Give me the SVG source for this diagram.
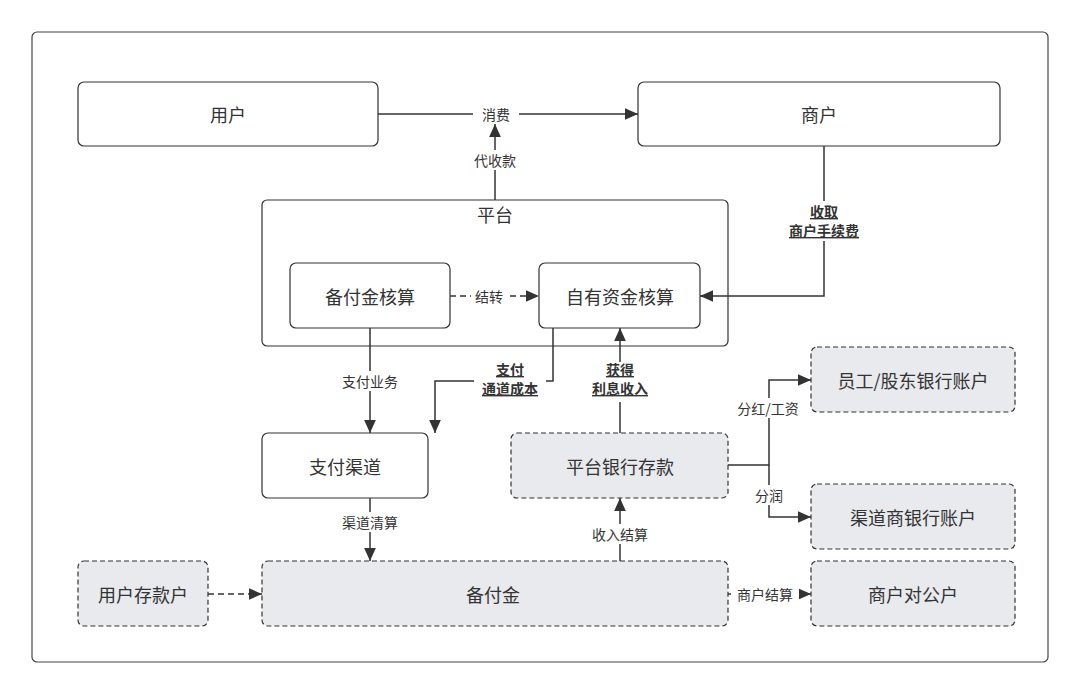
<svg xmlns="http://www.w3.org/2000/svg" width="1080" height="695" viewBox="0 0 1080 695">
<defs>
<marker id="ahb" viewBox="0 0 10 10" refX="10" refY="5" markerWidth="13" markerHeight="13" markerUnits="userSpaceOnUse" orient="auto"><path d="M0,0.5 L10,5 L0,9.5 Z" fill="#333"/></marker>
</defs>
<style>
text{font-family:"Noto Sans CJK SC","Liberation Sans",sans-serif;fill:#333;}
.n{font-size:18px;text-anchor:middle;dominant-baseline:central;}
.l{font-size:14px;text-anchor:middle;dominant-baseline:central;}
.b{font-size:14px;font-weight:bold;text-anchor:middle;text-decoration:underline;}
.box{fill:#fff;stroke:#333;stroke-width:1.2;}
.dbox{fill:#e8eaed;stroke:#333;stroke-width:1.2;stroke-dasharray:5 3;}
.c{fill:none;stroke:#333;stroke-width:1.5;}
.dc{fill:none;stroke:#333;stroke-width:1.5;stroke-dasharray:6 4;}
.bg{fill:#fff;}
</style>
<rect x="32" y="32" width="1016" height="630" rx="5" fill="#fff" stroke="#444" stroke-width="1.2"/>
<g id="platform"><rect class="box" x="262" y="200" width="466" height="146" rx="5"/><text class="n" x="495" y="214">平台</text></g>
<g id="user"><rect class="box" x="78" y="82" width="300" height="64" rx="6"/><text class="n" x="228" y="114">用户</text></g>
<g id="merchant"><rect class="box" x="638" y="82" width="362" height="64" rx="6"/><text class="n" x="819" y="114">商户</text></g>
<g id="reserve-acct"><rect class="box" x="290" y="263" width="160" height="65" rx="6"/><text class="n" x="370" y="296">备付金核算</text></g>
<g id="own-acct"><rect class="box" x="539" y="263" width="161" height="65" rx="6"/><text class="n" x="620" y="296">自有资金核算</text></g>
<g id="pay-channel"><rect class="box" x="262" y="433" width="166" height="65" rx="6"/><text class="n" x="345" y="466">支付渠道</text></g>
<g id="bank-deposit"><rect class="dbox" x="511" y="433" width="217" height="65" rx="6"/><text class="n" x="620" y="466">平台银行存款</text></g>
<g id="staff"><rect class="dbox" x="811" y="347" width="204" height="65" rx="6"/><text class="n" x="913" y="380">员工/股东银行账户</text></g>
<g id="channel-bank"><rect class="dbox" x="811" y="484" width="204" height="65" rx="6"/><text class="n" x="913" y="517">渠道商银行账户</text></g>
<g id="reserve"><rect class="dbox" x="262" y="561" width="466" height="65" rx="6"/><text class="n" x="493" y="594">备付金</text></g>
<g id="user-deposit"><rect class="dbox" x="78" y="561" width="130" height="65" rx="6"/><text class="n" x="143" y="594">用户存款户</text></g>
<g id="merchant-corp"><rect class="dbox" x="811" y="561" width="204" height="65" rx="6"/><text class="n" x="913" y="594">商户对公户</text></g>
<g id="connectors">
<path class="c" d="M378,114 H638" marker-end="url(#ahb)"/>
<rect class="bg" x="473" y="104" width="46" height="20"/><text class="l" x="496" y="114">消费</text>
<path class="c" d="M495,200 V124" marker-end="url(#ahb)"/>
<rect class="bg" x="468" y="150" width="54" height="20"/><text class="l" x="495" y="160">代收款</text>
<path class="dc" d="M450,296 H539" marker-end="url(#ahb)"/>
<rect class="bg" x="471" y="286" width="36" height="20"/><text class="l" x="489" y="296">结转</text>
<path class="c" d="M824,146 V296 H700" marker-end="url(#ahb)"/>
<rect class="bg" x="780" y="201" width="88" height="40"/>
<text class="b" x="824" y="217">收取</text><text class="b" x="824" y="236">商户手续费</text>
<path class="c" d="M370,328 V433" marker-end="url(#ahb)"/>
<rect class="bg" x="335" y="371" width="70" height="20"/><text class="l" x="370" y="381">支付业务</text>
<path class="c" d="M553,328 V381 H435 V433" marker-end="url(#ahb)"/>
<rect class="bg" x="474" y="359" width="72" height="42"/>
<text class="b" x="510" y="375">支付</text><text class="b" x="510" y="394">通道成本</text>
<path class="c" d="M620,433 V328" marker-end="url(#ahb)"/>
<rect class="bg" x="583" y="362" width="74" height="40"/>
<text class="b" x="620" y="375">获得</text><text class="b" x="620" y="394">利息收入</text>
<path class="c" d="M728,465 H769 V380 H811" marker-end="url(#ahb)"/>
<path class="c" d="M769,465 V517 H811" marker-end="url(#ahb)"/>
<rect class="bg" x="732" y="398" width="74" height="20"/><text class="l" x="768" y="408">分红/工资</text>
<rect class="bg" x="751" y="485" width="36" height="20"/><text class="l" x="769" y="495">分润</text>
<path class="c" d="M370,498 V561" marker-end="url(#ahb)"/>
<rect class="bg" x="335" y="512" width="70" height="20"/><text class="l" x="370" y="522">渠道清算</text>
<path class="c" d="M620,561 V498" marker-end="url(#ahb)"/>
<rect class="bg" x="585" y="524" width="70" height="20"/><text class="l" x="620" y="534">收入结算</text>
<path class="dc" d="M208,594 H262" marker-end="url(#ahb)"/>
<path class="c" d="M728,594 H811" marker-end="url(#ahb)"/>
<rect class="bg" x="731" y="584" width="68" height="20"/><text class="l" x="765" y="594">商户结算</text>
</g>
</svg>
